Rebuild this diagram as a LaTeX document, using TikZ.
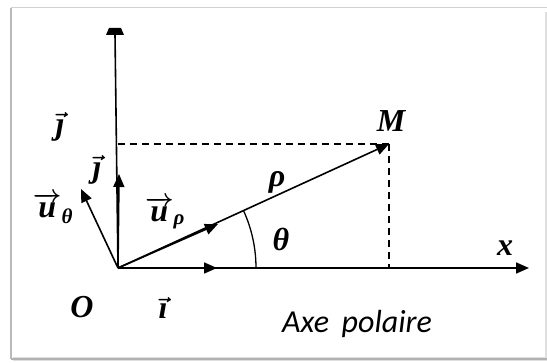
\documentclass[tikz,border=0pt]{standalone}
\usepackage{amsmath}
\usepackage{fontspec}
\newfontfamily\carl{Carlito}
\newfontfamily\lbi{Liberation Serif}
\usetikzlibrary{arrows.meta}
\newcommand{\lt}[1]{{\lbi\bfseries\itshape #1}}
\newcommand{\vlt}[1]{$\boldsymbol{\vec{\hbox{\lt{#1}}}}$}
\newcommand{\vsub}[2]{$\boldsymbol{\overrightarrow{\hbox{\lt{#1}}}}_{\hbox{\fontsize{21}{23}\selectfont\lt{#2}}}$}
\begin{document}
\begin{tikzpicture}[x=1pt,y=-1pt,
  axisline/.style={line width=1.6pt,black},
  vecarrow/.style={line width=1.6pt,-{Triangle[length=13pt,width=11pt]}},
  dashline/.style={line width=1.1pt,dash pattern=on 7pt off 5pt},
  lab/.style={inner sep=0pt,font=\fontsize{32}{35}\selectfont},
  sanslab/.style={inner sep=0pt,font=\fontsize{32}{34}\selectfont\carl\itshape}]
\useasboundingbox (0,0) rectangle (547,363);
% frame
\fill[gray!25] (13,12) rectangle (547,361);
\fill[white] (13,8) rectangle (545,357);
\draw[gray!35,line width=1pt] (11,8) -- (547,8);
\draw[gray!55,line width=2pt] (11,8) -- (11,359);
\draw[gray!60,line width=2pt] (11,359) -- (547,359);
% points
\coordinate (O) at (118,268);
\coordinate (Ytop) at (115,34);
\coordinate (Xend) at (529,268);
\coordinate (M) at (389,144);
\coordinate (Mx) at (389,268);
\coordinate (My) at (118,144);
\coordinate (I) at (217,268);
\coordinate (J) at (119,174);
\coordinate (Ur) at (218,224);
\coordinate (Ut) at (81,189);
% axes
\draw[axisline] (O) -- (Ytop);
\fill (106,35) -- (124,35) -- (121,28) -- (109,28) -- cycle;
\draw[vecarrow] (O) -- (Xend);
\draw[dashline] (My) -- (M);
\draw[dashline] (M) -- (Mx);
\draw[vecarrow] (O) -- (M);
\draw[vecarrow] (O) -- (I);
\draw[vecarrow] (O) -- (J);
\draw[vecarrow] (O) -- (Ur);
\draw[vecarrow] (O) -- (Ut);
\draw[line width=1.3pt] plot[domain=0:24.6,samples=30,smooth] ({118+138*cos(\x)},{268-138*sin(\x)});
% labels
\node[lab] (lj1) at (60,127) {\vlt{ȷ}};
\node[lab] (lj2) at (97,170) {\vlt{ȷ}};
\node[lab] (lut) at (53,208) {\vsub{u}{θ}};
\node[lab] (lur) at (165,213) {\vsub{u}{ρ}};
\node[lab] (lrho) at (277,182) {\lt{ρ}};
\node[lab] (lth) at (281,239) {\lt{θ}};
\node[lab] (lM) at (391,121) {\lt{M}};
\node[lab] (lx) at (505,248) {\lt{x}};
\node[lab] (lO) at (82,307) {\lt{O}};
\node[lab] (li) at (163,308) {\vlt{ı}};
\node[sanslab] (lax) at (357,324) {Axe\, polaire};
\end{tikzpicture}
\end{document}
